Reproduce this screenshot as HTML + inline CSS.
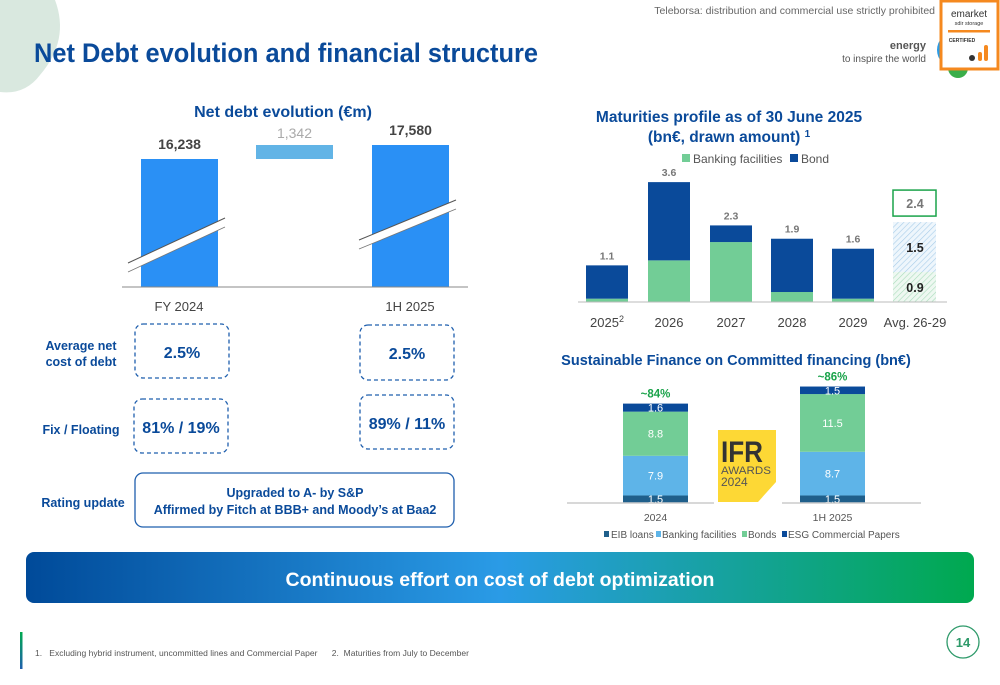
<!DOCTYPE html>
<html><head><meta charset="utf-8">
<style>
html,body{margin:0;padding:0;background:#fff;}
svg{display:block;font-family:"Liberation Sans",sans-serif;}
.b{font-weight:bold}
</style></head>
<body>
<svg id="s" width="1000" height="685" viewBox="0 0 1000 685" xmlns="http://www.w3.org/2000/svg">
<defs>
<linearGradient id="bg" x1="0" x2="1" y1="0" y2="0">
<stop offset="0" stop-color="#004a99"/><stop offset="0.5" stop-color="#2a9be6"/><stop offset="1" stop-color="#00a94f"/>
</linearGradient>
<linearGradient id="fl" x1="0" x2="0" y1="0" y2="1"><stop offset="0" stop-color="#00a94f"/><stop offset="1" stop-color="#1f5fae"/></linearGradient>
<pattern id="hb" width="4" height="4" patternUnits="userSpaceOnUse" patternTransform="rotate(45)"><rect width="4" height="4" fill="#eef6fc"/><line x1="0" y1="0" x2="0" y2="4" stroke="#a8cde9" stroke-width="1.2"/></pattern>
<pattern id="hg" width="4" height="4" patternUnits="userSpaceOnUse" patternTransform="rotate(45)"><rect width="4" height="4" fill="#eef8f1"/><line x1="0" y1="0" x2="0" y2="4" stroke="#a9dcbc" stroke-width="1.2"/></pattern>
</defs>

<!-- header -->
<path d="M0 0 L55 0 Q70 40 40 75 Q25 95 0 92 Z" fill="#d9e8df"/>
<text x="34" y="62" font-size="27" class="b" fill="#0a4a9a" textLength="504" lengthAdjust="spacingAndGlyphs">Net Debt evolution and financial structure</text>
<text x="935" y="14" font-size="10.5" fill="#666" text-anchor="end">Teleborsa: distribution and commercial use strictly prohibited</text>
<text x="926" y="49" font-size="11" class="b" fill="#555" text-anchor="end">energy</text>
<text x="926" y="62" font-size="10" fill="#555" text-anchor="end">to inspire the world</text>
<circle cx="955" cy="50" r="18" fill="#2a9be6"/>
<circle cx="958" cy="68" r="10" fill="#3aae4a"/>
<g>
<rect x="941" y="1" width="57" height="68" fill="#fff" stroke="#f5891f" stroke-width="3"/>
<text x="969" y="17" font-size="10" fill="#333" text-anchor="middle">emarket</text>
<text x="969" y="25" font-size="5.5" fill="#333" text-anchor="middle">sdir storage</text>
<rect x="948" y="30" width="42" height="2.5" fill="#f5891f"/>
<text x="962" y="42" font-size="5" class="b" fill="#333" text-anchor="middle">CERTIFIED</text>
<circle cx="972" cy="58" r="3" fill="#333"/><rect x="978" y="52" width="4" height="9" rx="2" fill="#f5891f"/><rect x="984" y="45" width="4" height="16" rx="2" fill="#f5891f"/>
</g>

<!-- net debt chart -->
<text x="283" y="117" font-size="16" class="b" fill="#0a4a9a" text-anchor="middle">Net debt evolution (€m)</text>
<g id="nd"></g>
<line x1="122" y1="287" x2="468" y2="287" stroke="#888" stroke-width="1"/>
<text x="179" y="311" font-size="13" fill="#444" text-anchor="middle">FY 2024</text>
<text x="410" y="311" font-size="13" fill="#444" text-anchor="middle">1H 2025</text>

<!-- KPI table -->
<g font-size="12.5" class="b" fill="#0a4a9a">
<text x="81" y="350" text-anchor="middle">Average net</text>
<text x="81" y="366" text-anchor="middle">cost of debt</text>
<text x="81" y="434" text-anchor="middle">Fix / Floating</text>
<text x="83" y="507" text-anchor="middle">Rating update</text>
</g>
<g fill="none" stroke="#1f5fae" stroke-width="1.3" stroke-dasharray="4 3">
<rect x="135" y="324" width="94" height="54" rx="8"/>
<rect x="360" y="325" width="94" height="55" rx="8"/>
<rect x="134" y="399" width="94" height="54" rx="8"/>
<rect x="360" y="395" width="94" height="54" rx="8"/>
</g>
<rect x="135" y="473" width="319" height="54" rx="8" fill="none" stroke="#1f5fae" stroke-width="1.3"/>
<g font-size="16" class="b" fill="#0a4a9a" text-anchor="middle">
<text x="182" y="358">2.5%</text>
<text x="407" y="359">2.5%</text>
<text x="181" y="433">81% / 19%</text>
<text x="407" y="429">89% / 11%</text>
</g>
<g font-size="12.5" class="b" fill="#0a4a9a" text-anchor="middle">
<text x="295" y="497">Upgraded to A- by S&amp;P</text>
<text x="295" y="514">Affirmed by Fitch at BBB+ and Moody’s at Baa2</text>
</g>

<!-- maturities chart -->
<text x="729" y="122" font-size="15.5" class="b" fill="#0a4a9a" text-anchor="middle">Maturities profile as of 30 June 2025</text>
<text x="729" y="142" font-size="15.5" class="b" fill="#0a4a9a" text-anchor="middle">(bn€, drawn amount) <tspan font-size="10" dy="-5">1</tspan></text>
<g font-size="12" fill="#555">
<rect x="682" y="154" width="8" height="8" fill="#72cd96"/><text x="693" y="163">Banking facilities</text>
<rect x="790" y="154" width="8" height="8" fill="#0a4a9a"/><text x="801" y="163">Bond</text>
</g>
<g id="mat"></g>
<line x1="578" y1="302" x2="947" y2="302" stroke="#bbb"/>

<!-- sustainable chart -->
<text x="736" y="365" font-size="14.5" class="b" fill="#0a4a9a" text-anchor="middle">Sustainable Finance on Committed financing (bn€)</text>
<g>
<path d="M718 430 L776 430 L776 482 L758 502 L718 502 Z" fill="#fdd835"/>
<text x="721" y="462" font-size="30" class="b" fill="#333" textLength="42" lengthAdjust="spacingAndGlyphs">IFR</text>
<text x="721" y="474" font-size="11" fill="#555" textLength="50" lengthAdjust="spacingAndGlyphs">AWARDS</text>
<text x="721" y="486" font-size="12" fill="#555">2024</text>
</g>
<g id="sus"></g>
<line x1="567" y1="503" x2="714" y2="503" stroke="#ccc" stroke-width="1.5"/>
<line x1="782" y1="503" x2="921" y2="503" stroke="#ccc" stroke-width="1.5"/>
<g font-size="10" fill="#555">
<rect x="604" y="531" width="5" height="6" fill="#1f5f8b"/><text x="611" y="538">EIB loans</text>
<rect x="656" y="531" width="5" height="6" fill="#5eb4e8"/><text x="662" y="538">Banking facilities</text>
<rect x="742" y="531" width="5" height="6" fill="#72cd96"/><text x="748" y="538">Bonds</text>
<rect x="782" y="531" width="5" height="6" fill="#0a4a9a"/><text x="788" y="538">ESG Commercial Papers</text>
</g>

<!-- banner -->
<rect x="26" y="552" width="948" height="51" rx="8" fill="url(#bg)"/>
<text x="500" y="586" font-size="19.5" class="b" fill="#fff" text-anchor="middle">Continuous effort on cost of debt optimization</text>

<!-- footer -->
<rect x="20" y="632" width="2.5" height="37" fill="url(#fl)"/>
<text x="35" y="656" font-size="8.5" fill="#555" textLength="434" lengthAdjust="spacing" xml:space="preserve">1.   Excluding hybrid instrument, uncommitted lines and Commercial Paper      2.  Maturities from July to December</text>
<circle cx="963" cy="642" r="16" fill="#fff" stroke="#2e9a6a" stroke-width="1.3"/>
<text x="963" y="647" font-size="13" class="b" fill="#2e9a6a" text-anchor="middle">14</text>
</svg>
<script>
const NS="http://www.w3.org/2000/svg";
// Net debt data
const ndCats=["FY 2024","Delta","1H 2025"];
const ndValues=[16238,1342,17580];
const ndLabels=["16,238","1,342","17,580"];
// Maturities data
const matCats=["2025","2026","2027","2028","2029"];
const matBank=[0.1,1.25,1.8,0.3,0.1];
const matBond=[1.0,2.35,0.5,1.6,1.5];
const matTotals=["1.1","3.6","2.3","1.9","1.6"];
const avgBank=0.9, avgBond=1.5, avgTotal="2.4";
// Sustainable data
const susCats=["2024","1H 2025"];
const susEIB=[1.5,1.5];
const susBank=[7.9,8.7];
const susBonds=[8.8,11.5];
const susESG=[1.6,1.5];
const susPct=["~84%","~86%"];

function mk(tag,attrs,parent,txt){const e=document.createElementNS(NS,tag);for(const k in attrs)e.setAttribute(k,attrs[k]);if(txt!==undefined)e.textContent=txt;parent.appendChild(e);return e;}

// net debt (broken axis)
(function(){
 const g=document.getElementById('nd');
 const base=287, off=3966, k=0.01043;
 const y=v=>base-(v-off)*k;
 const xs=[141,256,372], w=77;
 const yFY=y(ndValues[0]), y1H=y(ndValues[2]);
 let r=mk('rect',{x:xs[0],y:yFY,width:w,height:base-yFY,fill:'#2a90f5'},g);
 
 const yD=y(ndValues[0]+ndValues[1]);
 r=mk('rect',{x:xs[1],y:yD,width:w,height:yFY-yD,fill:'#62b4e6'},g);
 
 r=mk('rect',{x:xs[2],y:y1H,width:w,height:base-y1H,fill:'#2a90f5'},g);
 
 [[128,263,225,218],[359,240,456,200]].forEach((b,i)=>{
  const p=mk('polygon',{points:`${b[0]},${b[1]} ${b[2]},${b[3]} ${b[2]},${b[3]+9} ${b[0]},${b[1]+9}`,fill:'#fff'},g);
  
  mk('line',{x1:b[0],y1:b[1],x2:b[2],y2:b[3],stroke:'#555','stroke-width':1},g);
  mk('line',{x1:b[0],y1:b[1]+9,x2:b[2],y2:b[3]+9,stroke:'#777','stroke-width':0.8},g);
 });
 const lbl=[[xs[0]+w/2,yFY-10,'#444',true],[xs[1]+w/2,yD-7,'#aaa',false],[xs[2]+w/2,y1H-10,'#444',true]];
 lbl.forEach((l,i)=>{const t=mk('text',{x:l[0],y:l[1],'font-size':14,fill:l[2],'text-anchor':'middle','font-weight':l[3]?'bold':'normal'},g,ndLabels[i]);
  });
})();

// maturities
(function(){
 const g=document.getElementById('mat');
 const base=302, k=33.3, w=42;
 const xs=[586,648,710,771,832], avgX=893;
 matCats.forEach((c,i)=>{
  const hb=matBank[i]*k, hd=matBond[i]*k;
  let r=mk('rect',{x:xs[i],y:base-hb,width:w,height:hb,fill:'#72cd96'},g);
  
  r=mk('rect',{x:xs[i],y:base-hb-hd,width:w,height:hd,fill:'#0a4a9a'},g);
  
  let t=mk('text',{x:xs[i]+w/2,y:base-hb-hd-6,'font-size':10.5,'font-weight':'bold',fill:'#777','text-anchor':'middle'},g,matTotals[i]);
  
  t=mk('text',{x:xs[i]+w/2,y:327,'font-size':13,fill:'#444','text-anchor':'middle'},g,c);
  
  if(i===0){mk('tspan',{'font-size':9,dy:-5},t,'2');}
 });
 const hb=avgBank*k, hd=avgBond*k;
 let r=mk('rect',{x:avgX,y:base-hb,width:w+1,height:hb,fill:'url(#hg)'},g);
 
 r=mk('rect',{x:avgX,y:base-hb-hd,width:w+1,height:hd,fill:'url(#hb)'},g);
 
 mk('text',{x:avgX+22,y:base-hb/2+5,'font-size':12.5,'font-weight':'bold',fill:'#222','text-anchor':'middle'},g,avgBank.toFixed(1));
 mk('text',{x:avgX+22,y:base-hb-hd/2+5,'font-size':12.5,'font-weight':'bold',fill:'#222','text-anchor':'middle'},g,avgBond.toFixed(1));
 const bt=base-hb-hd-5;
 r=mk('rect',{x:avgX,y:bt-27,width:43,height:26,fill:'#fff',stroke:'#1aa34a','stroke-width':1.5},g);
 
 mk('text',{x:avgX+22,y:bt-9,'font-size':12.5,'font-weight':'bold',fill:'#777','text-anchor':'middle'},g,avgTotal);
 const t=mk('text',{x:avgX+22,y:327,'font-size':13,fill:'#444','text-anchor':'middle'},g,'Avg. 26-29');
 
})();

// sustainable
(function(){
 const g=document.getElementById('sus');
 const base=503, k=5.02, w=65, xs=[623,800];
 const cols=['#1f5f8b','#5eb4e8','#72cd96','#0a4a9a'];
 const names=['eib','banking','bonds','esg'];
 susCats.forEach((c,i)=>{
  const vals=[susEIB[i],susBank[i],susBonds[i],susESG[i]];
  let y=base;
  vals.forEach((v,j)=>{
   const h=v*k; y-=h;
   const r=mk('rect',{x:xs[i],y:y,width:w,height:h,fill:cols[j]},g);
   
   mk('text',{x:xs[i]+w/2,y:y+h/2+4,'font-size':11,fill:'#fff','text-anchor':'middle'},g,v.toFixed(1));
  });
  let t=mk('text',{x:xs[i]+w/2,y:y-6,'font-size':11.5,'font-weight':'bold',fill:'#1aa34a','text-anchor':'middle'},g,susPct[i]);
  
  t=mk('text',{x:xs[i]+w/2,y:521,'font-size':10.5,fill:'#555','text-anchor':'middle'},g,c);
  
 });
})();
</script>
</body></html>
